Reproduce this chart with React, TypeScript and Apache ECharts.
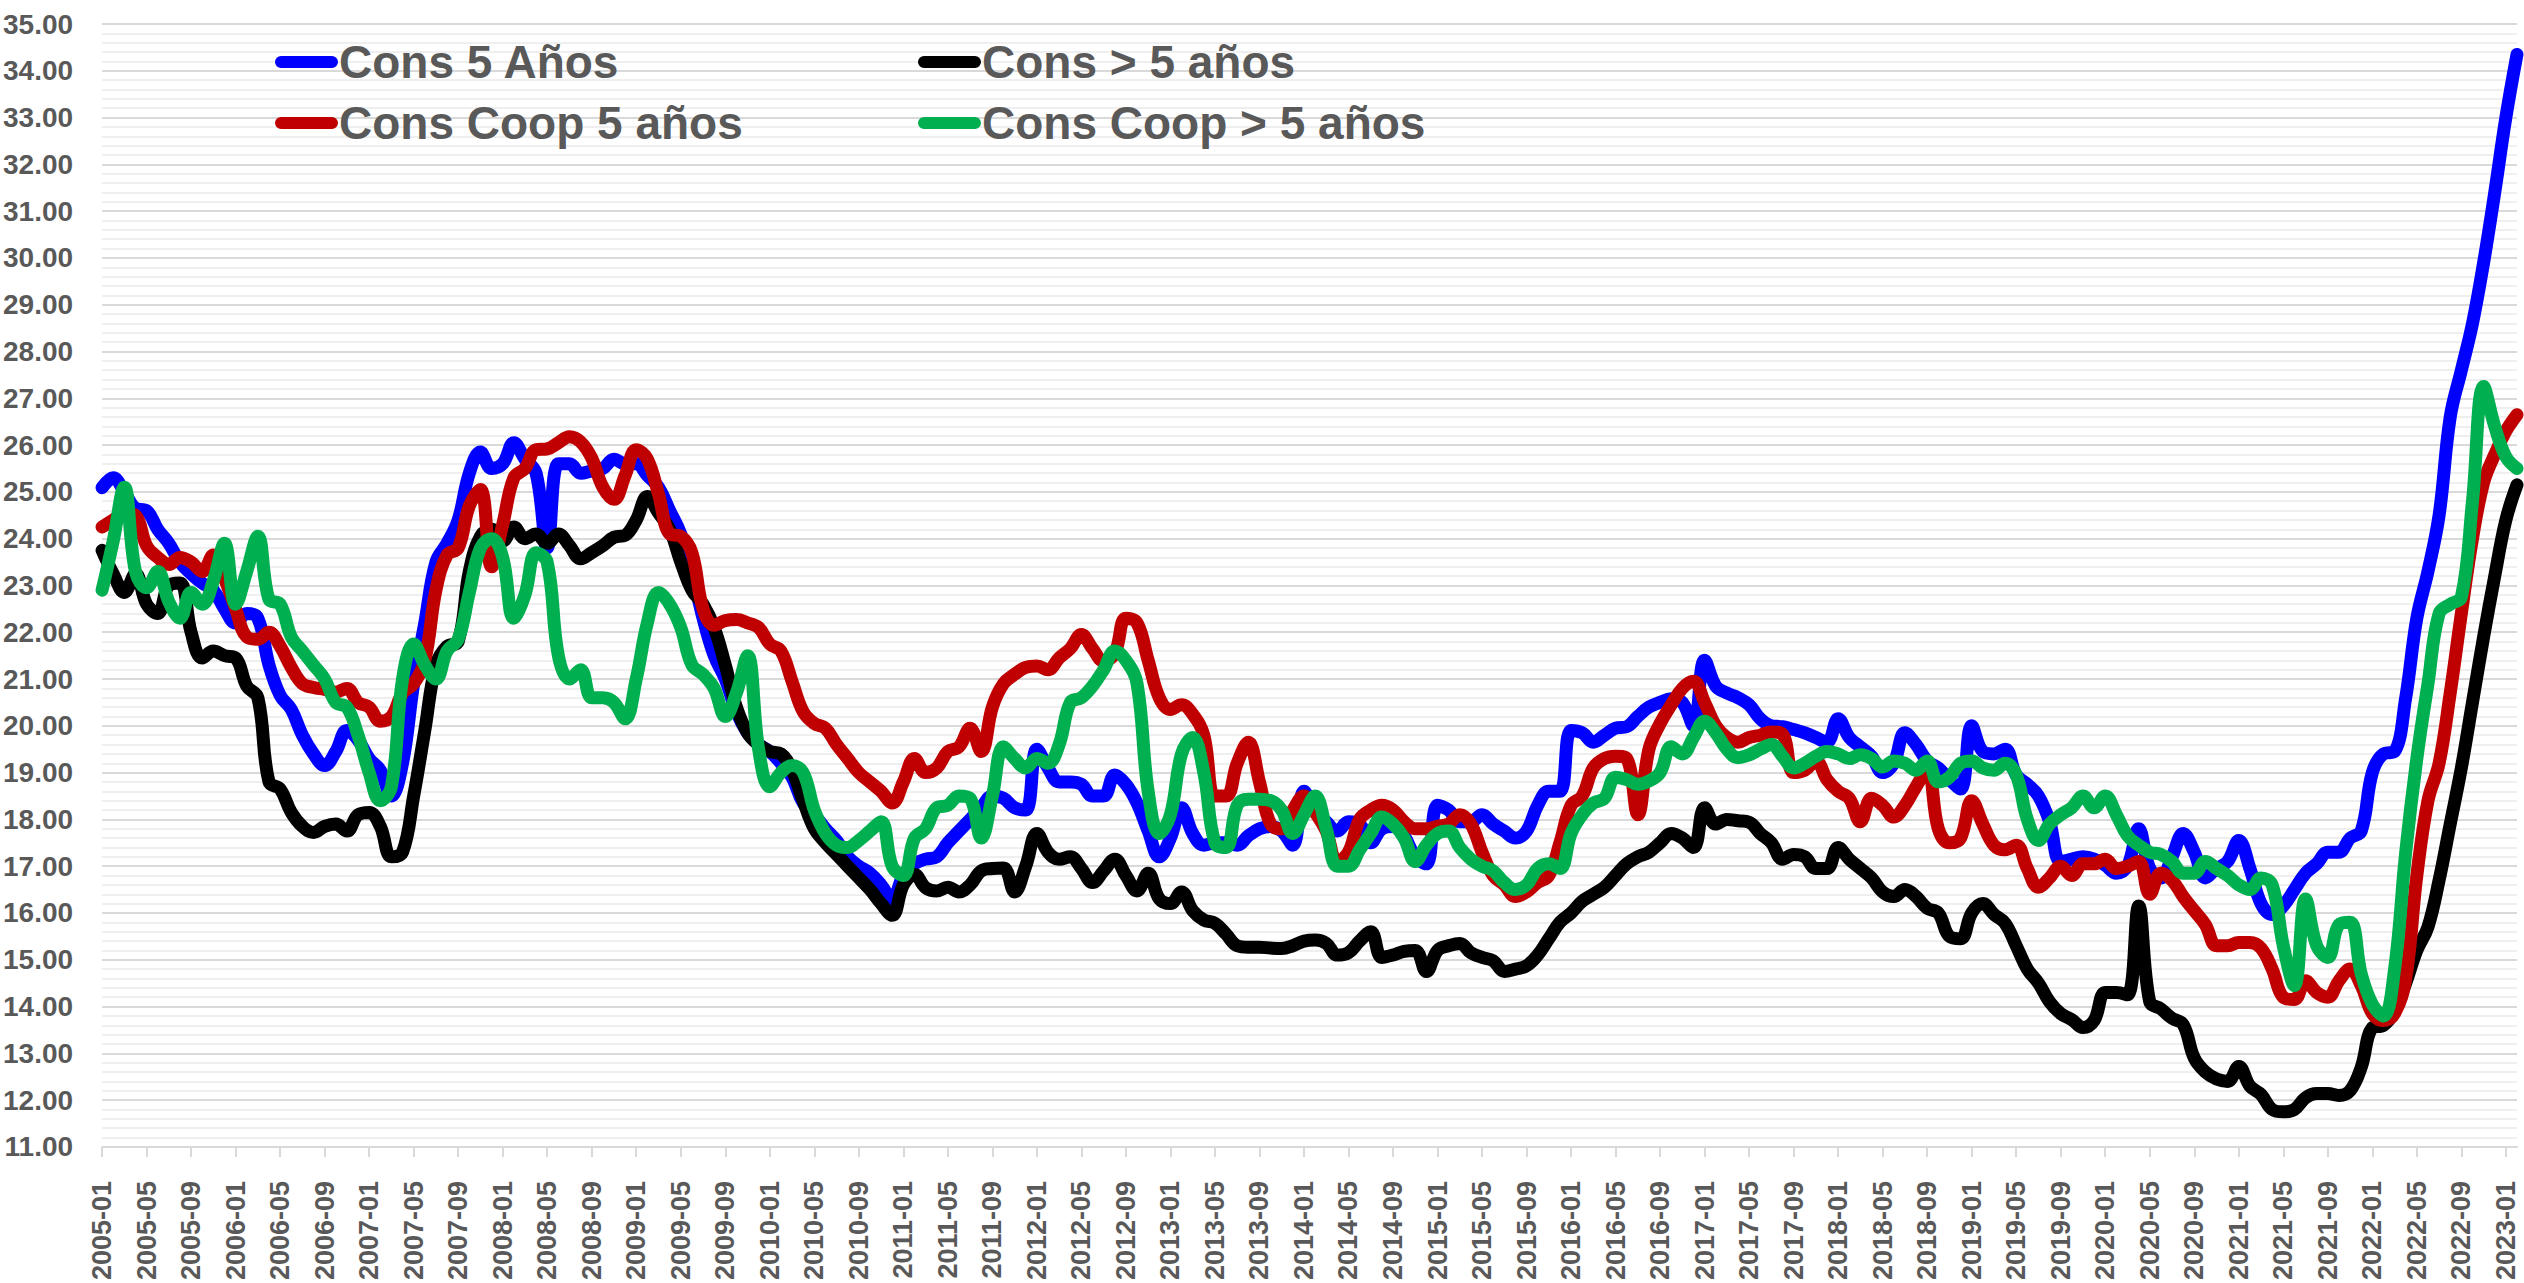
import React, { useEffect, useRef } from 'react';
import * as echarts from 'echarts';

// Monthly categories 2005-01 .. 2023-02
const categories: string[] = [];
for (let y = 2005; y <= 2023; y++) {
  for (let m = 1; m <= 12; m++) {
    if (y === 2023 && m > 2) break;
    categories.push(`${y}-${m < 10 ? '0' + m : m}`);
  }
}

const seriesNames = ['Cons 5 Años', 'Cons > 5 años', 'Cons Coop 5 años', 'Cons Coop > 5 años'];
const seriesColors = ['#0000FF', '#000000', '#C00000', '#00B050'];

const cons5 = [
  25.09, 25.3, 25.0, 24.65, 24.6, 24.2, 23.9, 23.5, 23.25, 23.05, 22.9, 22.5,
  22.2, 22.4, 22.3, 21.3, 20.65, 20.35, 19.8, 19.4, 19.15, 19.45, 19.9, 19.7,
  19.3, 19.05, 18.5, 19.2, 20.9, 22.2, 23.5, 23.9, 24.4, 25.4, 25.85, 25.5,
  25.6, 26.05, 25.7, 25.4, 23.8, 25.6, 25.6, 25.4, 25.45, 25.5, 25.7, 25.6,
  25.6, 25.35, 25.1, 24.6, 24.1, 23.3, 22.3, 21.5, 21.0, 20.3, 19.85, 19.6,
  19.45, 19.2, 18.9, 18.35, 18.1, 17.8, 17.55, 17.2, 17.0, 16.85, 16.6, 16.3,
  16.8, 17.05, 17.15, 17.2, 17.5, 17.75, 18.0, 18.25, 18.5, 18.45, 18.25, 18.2,
  19.5, 19.1, 18.8, 18.8, 18.75, 18.5, 18.5, 18.95, 18.75, 18.35, 17.75, 17.2,
  17.6, 18.25, 17.7, 17.45, 17.5, 17.5, 17.45, 17.65, 17.8, 17.85, 17.75, 17.45,
  18.6, 18.2, 17.95, 17.75, 17.95, 17.9, 17.5, 17.8, 17.85, 17.65, 17.2, 17.05,
  18.3, 18.2, 17.95, 17.95, 18.1, 17.9, 17.75, 17.6, 17.75, 18.3, 18.6, 18.6,
  19.9, 19.85, 19.65, 19.8, 19.95, 19.98, 20.2, 20.4, 20.5, 20.58, 20.5, 20.0,
  21.4, 20.85, 20.7, 20.6, 20.45, 20.15, 20.0, 19.98, 19.92, 19.85, 19.75, 19.65,
  20.15, 19.75, 19.55, 19.35, 19.0, 19.2, 19.85, 19.6, 19.25, 19.1, 18.85, 18.65,
  20.0, 19.45, 19.4, 19.5, 18.95, 18.75, 18.5, 17.95, 17.1, 17.15, 17.2, 17.15,
  17.02, 16.85, 17.0, 17.8, 16.95, 16.75, 17.2, 17.7, 17.3, 16.75, 16.95, 17.1,
  17.55, 16.95, 16.2, 15.97, 16.15, 16.5, 16.85, 17.05, 17.3, 17.3, 17.6, 17.75,
  19.0, 19.4, 19.45, 20.6, 22.3, 23.3, 24.5, 26.6, 27.6, 28.6, 29.9, 31.4,
  33.0, 34.35,
];

const consMas5 = [
  23.75, 23.25, 22.85, 23.25, 22.6, 22.4, 23.0, 23.05, 22.0, 21.45, 21.6, 21.5,
  21.45, 20.85, 20.6, 18.8, 18.65, 18.15, 17.85, 17.72, 17.85, 17.9, 17.75, 18.1,
  18.15, 17.85, 17.2, 17.3, 18.5, 19.9, 21.3, 21.7, 21.8, 23.3, 24.05, 24.2,
  23.95, 24.25, 24.0, 24.1, 23.9, 24.1, 23.85, 23.57, 23.7, 23.85, 24.03, 24.07,
  24.4, 24.9, 24.55, 24.2, 23.5, 22.9, 22.6, 22.1, 21.3, 20.4, 19.85, 19.6,
  19.45, 19.4, 19.05, 18.4, 17.8, 17.5, 17.25, 17.0, 16.75, 16.5, 16.2, 15.95,
  16.6, 16.82, 16.54, 16.47, 16.55, 16.45, 16.6, 16.9, 16.95, 16.96, 16.45, 17.0,
  17.7, 17.3, 17.15, 17.2, 16.95, 16.65, 16.9, 17.15, 16.8, 16.47, 16.85, 16.3,
  16.2, 16.45, 16.05, 15.85, 15.78, 15.55, 15.3, 15.27, 15.27, 15.25, 15.24, 15.3,
  15.4, 15.42, 15.35, 15.1, 15.15, 15.4, 15.6, 15.05, 15.1, 15.18, 15.2, 14.75,
  15.2, 15.3, 15.35, 15.15, 15.05, 14.98, 14.75, 14.8, 14.87, 15.1, 15.45, 15.8,
  16.0, 16.25, 16.4, 16.55, 16.8, 17.05, 17.2, 17.3, 17.5, 17.7, 17.6, 17.4,
  18.25, 17.9, 18.0, 17.97, 17.94, 17.7, 17.5, 17.15, 17.25, 17.2, 16.95, 16.95,
  17.4, 17.15, 16.95, 16.75, 16.45, 16.35, 16.5, 16.35, 16.1, 16.0, 15.5, 15.45,
  16.0, 16.2, 15.97, 15.78, 15.3, 14.8, 14.5, 14.1, 13.85, 13.72, 13.55, 13.7,
  14.3, 14.3, 14.25, 16.15, 14.1, 13.95, 13.75, 13.62, 12.9, 12.6, 12.45, 12.4,
  12.72, 12.3, 12.12, 11.8, 11.75, 11.8, 12.05, 12.14, 12.14, 12.1, 12.2, 12.7,
  13.55, 13.6, 13.9, 14.5, 15.2, 15.7, 16.7, 17.9, 19.1, 20.5, 21.9, 23.2,
  24.4, 25.15,
];

const consCoop5 = [
  24.25, 24.4, 24.55, 24.5, 23.85, 23.6, 23.45, 23.6, 23.5, 23.3, 23.65, 23.15,
  22.5, 21.9, 21.85, 22.0, 21.7, 21.25, 20.9, 20.82, 20.78, 20.72, 20.8, 20.5,
  20.4, 20.1, 20.2, 20.7, 20.9, 21.4, 22.9, 23.65, 23.8, 24.7, 25.05, 23.4,
  24.3, 25.3, 25.5, 25.9, 25.92, 26.05, 26.18, 26.07, 25.72, 25.1, 24.84, 25.35,
  25.9, 25.7, 24.95, 24.1, 24.05, 23.7, 22.5, 22.15, 22.25, 22.27, 22.2, 22.1,
  21.75, 21.6, 20.95, 20.3, 20.05, 19.95, 19.6, 19.3, 19.0, 18.8, 18.6, 18.35,
  18.8, 19.3, 19.0, 19.1, 19.45, 19.55, 19.95, 19.45, 20.4, 20.9, 21.1, 21.25,
  21.28, 21.2, 21.45, 21.65, 21.95, 21.65, 21.38, 21.55, 22.3, 22.2, 21.4, 20.6,
  20.35, 20.45, 20.25, 19.8, 18.5, 18.5, 19.2, 19.65, 18.8, 17.9, 17.8, 18.2,
  18.5, 18.15, 17.75, 17.1, 17.3, 18.0, 18.2, 18.3, 18.2, 17.95, 17.8, 17.8,
  17.85, 17.9, 18.1, 17.9, 17.3, 16.8, 16.6, 16.35, 16.45, 16.65, 16.8, 17.5,
  18.3, 18.5, 19.1, 19.3, 19.35, 19.3, 18.1, 19.5, 20.05, 20.45, 20.8, 20.95,
  20.5, 20.0, 19.75, 19.65, 19.75, 19.8, 19.87, 19.82, 19.0, 19.05, 19.25, 18.85,
  18.6, 18.45, 17.95, 18.45, 18.3, 18.05, 18.3, 18.7, 19.05, 17.8, 17.5, 17.6,
  18.4, 17.9, 17.45, 17.35, 17.45, 16.95, 16.55, 16.75, 17.0, 16.8, 17.05, 17.05,
  17.15, 16.95, 17.0, 17.1, 16.4, 16.85, 16.7, 16.35, 16.05, 15.75, 15.3, 15.3,
  15.37, 15.37, 15.25, 14.8, 14.2, 14.15, 14.55, 14.3, 14.2, 14.55, 14.8, 14.45,
  13.85, 13.7, 13.85, 14.6, 16.8, 18.4, 19.2, 20.7, 22.4, 24.0, 25.2, 25.8,
  26.3, 26.65,
];

const consCoopMas5 = [
  22.9, 23.95, 25.1, 23.3, 22.95, 23.3, 22.65, 22.3, 22.85, 22.6, 23.1, 23.9,
  22.6, 23.3, 24.05, 22.7, 22.6, 21.9, 21.6, 21.3, 21.0, 20.5, 20.4, 19.8,
  19.0, 18.4, 18.7, 21.0, 21.75, 21.3, 21.0, 21.6, 21.85, 22.85, 23.8, 24.0,
  23.6, 22.3, 22.8, 23.7, 23.5, 21.5, 21.0, 21.2, 20.6, 20.6, 20.5, 20.15,
  21.0, 22.2, 22.85, 22.6, 22.1, 21.3, 21.1, 20.8, 20.2, 20.7, 21.5, 19.5,
  18.7, 19.0, 19.15, 19.0, 18.2, 17.7, 17.45, 17.4, 17.55, 17.75, 17.95, 17.0,
  16.8, 17.6, 17.8, 18.25, 18.3, 18.5, 18.45, 17.6, 18.5, 19.55, 19.3, 19.1,
  19.3, 19.2, 19.6, 20.5, 20.6, 20.85, 21.2, 21.6, 21.4, 20.9, 18.6, 17.7,
  18.1, 19.4, 19.75, 19.0, 17.5, 17.4, 18.3, 18.43, 18.43, 18.4, 18.2, 17.7,
  18.1, 18.5, 17.8, 17.0, 17.0, 17.35, 17.7, 18.05, 17.9, 17.6, 17.1, 17.45,
  17.7, 17.75, 17.4, 17.15, 17.0, 16.9, 16.65, 16.5, 16.6, 16.95, 17.05, 16.95,
  17.7, 18.1, 18.35, 18.45, 18.9, 18.85, 18.75, 18.82, 19.0, 19.55, 19.4, 19.75,
  20.1, 19.85, 19.5, 19.32, 19.38, 19.5, 19.6, 19.35, 19.1, 19.2, 19.35, 19.45,
  19.4, 19.3, 19.38, 19.3, 19.12, 19.25, 19.2, 19.05, 19.25, 18.8, 18.9, 19.2,
  19.25, 19.1, 19.05, 19.2, 18.95, 18.0, 17.55, 17.9, 18.1, 18.25, 18.5, 18.25,
  18.5, 18.1, 17.65, 17.45, 17.3, 17.25, 17.1, 16.85, 16.85, 17.1, 16.95, 16.8,
  16.6, 16.5, 16.75, 16.6, 15.3, 14.45, 16.3, 15.3, 15.05, 15.75, 15.8, 14.7,
  14.05, 13.8, 14.8, 17.3, 19.3, 20.9, 22.4, 22.6, 22.75, 24.8, 27.25, 26.4,
  25.75, 25.5,
];

const seriesData = [cons5, consMas5, consCoop5, consCoopMas5];

const FONT = "'Liberation Sans Narrow', 'Arial Narrow', 'Liberation Sans', Arial, sans-serif";
const TEXT_COLOR = '#595959';
const PILL = 'path://M6,0 H57 A6,6 0 0 1 57,12 H6 A6,6 0 0 1 6,0 Z';

export default function App() {
  const ref = useRef<HTMLDivElement>(null);

  useEffect(() => {
    if (!ref.current) return;
    const chart = echarts.init(ref.current, undefined, { renderer: 'svg' });

    const legendCommon = {
      orient: 'vertical',
      top: 33,
      itemGap: 13,
      itemWidth: 63,
      itemHeight: 13,
      icon: PILL,
      selectedMode: false,
      textStyle: {
        fontSize: 46,
        lineHeight: 48,
        fontWeight: 'bold',
        color: TEXT_COLOR,
        fontFamily: FONT,
        padding: [0, 0, 0, -4],
      },
    };

    chart.setOption({
      animation: false,
      backgroundColor: '#ffffff',
      grid: { left: 101, right: 7, top: 24, bottom: 120, containLabel: false },
      legend: [
        { ...legendCommon, left: 270, data: [seriesNames[0], seriesNames[2]] },
        { ...legendCommon, left: 913, data: [seriesNames[1], seriesNames[3]] },
      ],
      xAxis: {
        type: 'category',
        data: categories,
        boundaryGap: false,
        axisLine: { show: true, lineStyle: { color: '#d9d9d9', width: 2 } },
        axisTick: { show: true, interval: 3, length: 10, lineStyle: { color: '#d9d9d9', width: 2 } },
        axisLabel: {
          interval: 3,
          rotate: 90,
          fontSize: 27,
          fontWeight: 'bold',
          color: TEXT_COLOR,
          fontFamily: FONT,
          margin: 34,
        },
        splitLine: { show: false },
      },
      yAxis: {
        type: 'value',
        min: 11,
        max: 35,
        interval: 1,
        axisLine: { show: false },
        axisTick: { show: false },
        axisLabel: {
          formatter: (v: number) => v.toFixed(2),
          fontSize: 28,
          fontWeight: 'bold',
          color: TEXT_COLOR,
          fontFamily: FONT,
          margin: 29,
        },
        splitLine: { show: true, lineStyle: { color: '#d9d9d9', width: 2 } },
        minorTick: { show: false, splitNumber: 5 },
        minorSplitLine: { show: true, lineStyle: { color: '#efefef', width: 2 } },
      },
      series: seriesNames.map((name, k) => ({
        name,
        type: 'line',
        data: seriesData[k],
        smooth: 0.4,
        showSymbol: false,
        symbol: 'none',
        color: seriesColors[k],
        lineStyle: { color: seriesColors[k], width: 13, cap: 'round', join: 'round' },
        z: 2 + k,
      })),
    });

    return () => chart.dispose();
  }, []);

  return (
    <div
      ref={ref}
      style={{ position: 'fixed', left: 0, top: 0, width: 2524, height: 1283, background: '#fff' }}
    />
  );
}
